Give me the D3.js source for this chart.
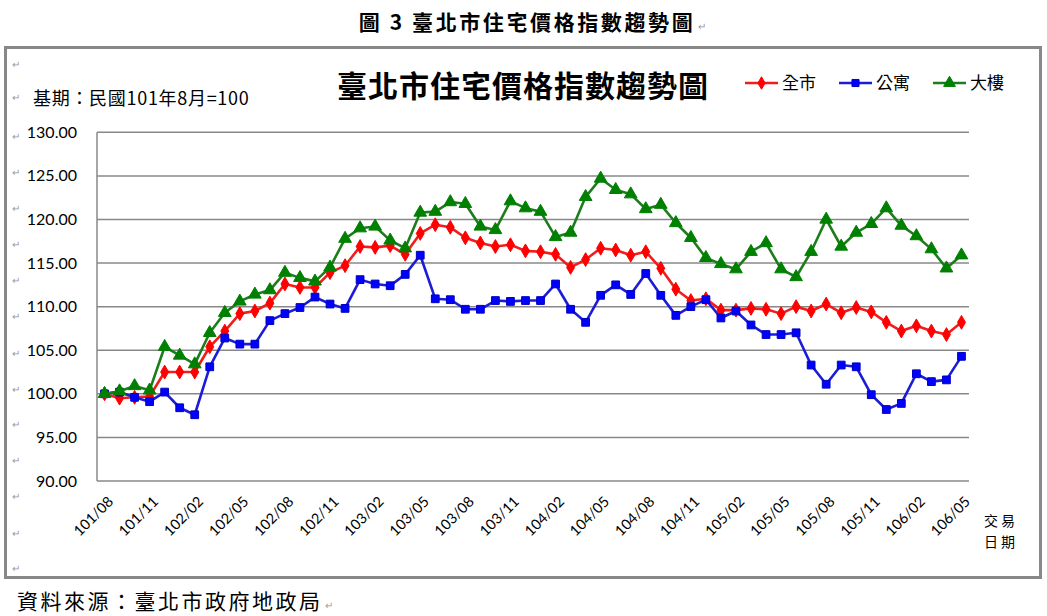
<!DOCTYPE html>
<html><head><meta charset="utf-8">
<script src="https://cdn.jsdelivr.net/npm/d3@7"></script>
<style>
body{margin:0;background:#fff;}
svg{display:block;}
</style></head>
<body>
<svg id="chart" width="1047" height="616"></svg>
<script>
const months = ["101/08","101/09","101/10","101/11","101/12",
"102/01","102/02","102/03","102/04","102/05","102/06","102/07","102/08","102/09","102/10","102/11","102/12",
"103/01","103/02","103/03","103/04","103/05","103/06","103/07","103/08","103/09","103/10","103/11","103/12",
"104/01","104/02","104/03","104/04","104/05","104/06","104/07","104/08","104/09","104/10","104/11","104/12",
"105/01","105/02","105/03","105/04","105/05","105/06","105/07","105/08","105/09","105/10","105/11","105/12",
"106/01","106/02","106/03","106/04","106/05"];
const tickLabels = ["101/08","101/11","102/02","102/05","102/08","102/11","103/02","103/05","103/08","103/11",
"104/02","104/05","104/08","104/11","105/02","105/05","105/08","105/11","106/02","106/05"];
const yTicks = [90,95,100,105,110,115,120,125,130];
const seriesNames = ["全市","公寓","大樓"];
const cityAll = [100.0,99.5,99.6,99.7,102.5,102.5,102.5,105.4,107.2,109.2,109.5,110.4,112.6,112.2,112.2,113.9,114.7,116.9,116.8,117.0,
116.0,118.4,119.4,119.1,117.9,117.3,116.9,117.1,116.4,116.3,116.0,114.5,115.4,116.7,116.5,115.9,116.3,114.4,112.0,
110.7,110.9,109.6,109.6,109.8,109.7,109.2,110.0,109.5,110.3,109.3,109.9,109.4,108.2,107.2,107.8,107.2,106.8,108.2];
const apartment = [100.0,100.2,99.6,99.1,100.2,98.4,97.6,103.1,106.4,105.7,105.7,108.4,109.2,109.9,111.1,110.3,109.8,113.1,112.6,112.4,
113.7,115.9,110.9,110.8,109.7,109.7,110.7,110.6,110.7,110.7,112.6,109.7,108.2,111.3,112.5,111.4,113.8,111.3,109.0,
110.0,110.8,108.7,109.5,107.9,106.8,106.8,107.0,103.3,101.1,103.3,103.1,99.9,98.2,98.9,102.3,101.4,101.6,104.3];
const building = [100.0,100.3,100.9,100.4,105.4,104.4,103.4,107.0,109.3,110.6,111.4,111.9,113.9,113.3,112.9,114.5,117.8,119.0,119.2,117.6,
116.7,120.8,120.9,122.0,121.8,119.2,118.8,122.1,121.3,120.9,118.0,118.5,122.6,124.7,123.4,122.9,121.2,121.7,119.6,
117.9,115.6,114.9,114.3,116.3,117.3,114.3,113.4,116.3,120.0,116.9,118.5,119.5,121.3,119.3,118.1,116.6,114.4,115.9];
const lineColors = ["#f21c1c","#1c1cd6","#1d7d1d"];
const markColors = ["#ff0000","#0000ff","#008000"];
const markSymbols = [d3.symbolDiamond, d3.symbolSquare, d3.symbolTriangle];
const markSizes = [55, 60, 70];

const svg = d3.select("#chart");
const cjk = "'Noto Sans CJK TC','Noto Sans CJK SC',sans-serif";
const latin = "Lato,'Open Sans',sans-serif";

// Top caption
svg.append("text").attr("x",527).attr("y",30).attr("text-anchor","middle")
  .attr("font-family",cjk).attr("font-weight","bold").attr("font-size",21).attr("letter-spacing",2.6)
  .text("圖 3 臺北市住宅價格指數趨勢圖");
svg.append("text").attr("x",698).attr("y",30).attr("font-size",10).attr("fill","#999").attr("font-family",cjk).text("↵");

// Frame
svg.append("rect").attr("x",5.5).attr("y",47.5).attr("width",1035).attr("height",530)
  .attr("fill","none").attr("stroke","#888").attr("stroke-width",3);

// paragraph marks along left
[68,101,140,176,212,248,284,320,357,393,428,464,500,537,572].forEach(y=>{
  svg.append("text").attr("x",12).attr("y",y).attr("font-size",10).attr("fill","#999").attr("font-family",cjk).text("↵");
});

const x = d3.scaleBand().domain(months).range([97,969]).padding(0);
const y = d3.scaleLinear().domain([90,130]).range([481,132.3]);
const cx = d => x(d) + x.bandwidth()/2;

// Grid
const g = svg.append("g");
g.selectAll("line.grid").data(yTicks).join("line")
  .attr("x1",97).attr("x2",969).attr("y1",d=>y(d)).attr("y2",d=>y(d))
  .attr("stroke","#888").attr("stroke-width",1.5);
g.append("line").attr("x1",97).attr("x2",97).attr("y1",y(130)).attr("y2",y(90))
  .attr("stroke","#888").attr("stroke-width",1.5);

// Y labels
g.selectAll("text.yl").data(yTicks).join("text")
  .attr("x",77).attr("y",d=>y(d)).attr("dy","0.35em").attr("text-anchor","end")
  .attr("font-family",latin).attr("font-size",16).attr("fill","#000")
  .text(d=>d3.format(".2f")(d));

// X labels
g.selectAll("text.xl").data(tickLabels).join("text")
  .attr("transform",d=>`translate(${cx(d)+6},${499}) rotate(-45)`)
  .attr("text-anchor","end").attr("dy","0.35em")
  .attr("font-family",latin).attr("font-size",14.5).attr("fill","#000")
  .text(d=>d);

// X axis title
svg.append("text").attr("x",1001).attr("y",526).attr("text-anchor","middle")
  .attr("font-family",cjk).attr("font-size",14).attr("letter-spacing",3).text("交易");
svg.append("text").attr("x",1001).attr("y",547).attr("text-anchor","middle")
  .attr("font-family",cjk).attr("font-size",14).attr("letter-spacing",3).text("日期");

// Base note
svg.append("text").attr("x",33).attr("y",105)
  .attr("font-family",cjk).attr("font-size",18).attr("letter-spacing",0.7).text("基期：民國101年8月=100");

// Chart title
svg.append("text").attr("x",523).attr("y",97).attr("text-anchor","middle")
  .attr("font-family",cjk).attr("font-weight","bold").attr("font-size",30).attr("letter-spacing",1)
  .text("臺北市住宅價格指數趨勢圖");

// Series
const allSeries = [cityAll, apartment, building];
const line = d3.line().x((d,i)=>cx(months[i])).y(d=>y(d));
allSeries.forEach((vals,k)=>{
  const sg = svg.append("g");
  sg.append("path").datum(vals).attr("d",line).attr("fill","none")
    .attr("stroke",lineColors[k]).attr("stroke-width",2.6).attr("stroke-linejoin","round");
  sg.selectAll("path.m").data(vals).join("path")
    .attr("transform",(d,i)=>`translate(${cx(months[i])},${y(d)})`)
    .attr("d",d3.symbol().type(markSymbols[k]).size(markSizes[k]))
    .attr("fill",markColors[k]).attr("stroke",k===1?"#0000c0":markColors[k]).attr("stroke-width",1);
});

// Legend
const legX = [745,839,933];
seriesNames.forEach((n,k)=>{
  const lg = svg.append("g");
  lg.append("line").attr("x1",legX[k]).attr("x2",legX[k]+33).attr("y1",83).attr("y2",83)
    .attr("stroke",lineColors[k]).attr("stroke-width",2.5);
  lg.append("path").attr("transform",`translate(${legX[k]+16.5},83)`)
    .attr("d",d3.symbol().type(markSymbols[k]).size(markSizes[k]-10))
    .attr("fill",markColors[k]).attr("stroke",k===1?"#0000c0":markColors[k]);
  lg.append("text").attr("x",legX[k]+37).attr("y",89).attr("font-family",cjk).attr("font-size",17).text(n);
});

// Source
svg.append("text").attr("x",17).attr("y",609).attr("font-family",cjk).attr("font-size",21).attr("letter-spacing",2.5)
  .text("資料來源：臺北市政府地政局");
svg.append("text").attr("x",325).attr("y",609).attr("font-size",10).attr("fill","#999").attr("font-family",cjk).text("↵");
</script>
</body></html>
